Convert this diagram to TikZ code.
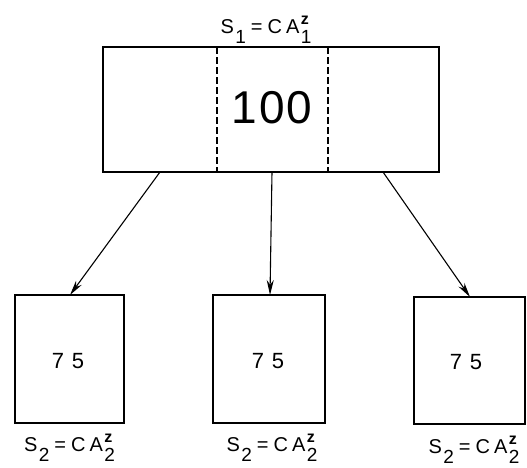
\documentclass[tikz,border=0pt]{standalone}
\usepackage{fontspec}
\setmainfont{Liberation Sans}
\usetikzlibrary{arrows.meta}
\newcommand{\subsup}[2]{\kern1.5pt\rlap{\raisebox{8.5pt}{\fontsize{16}{16}\selectfont\bfseries #1}}\raisebox{-10pt}{\fontsize{19}{19}\selectfont #2}}
\newcommand{\sub}[1]{\kern1.5pt\raisebox{-10pt}{\fontsize{19}{19}\selectfont #1}}
\newcommand{\lab}[1]{S\sub{#1}\kern5pt=\kern5pt C\kern4pt A\subsup{z}{#1}}
\begin{document}
\begin{tikzpicture}[x=1pt,y=-1pt]
\tikzset{
  box/.style={draw, line width=1.5pt, inner sep=0pt},
  divider/.style={line width=1.3pt, dash pattern=on 7pt off 3pt},
  arr/.style={line width=1.1pt, -{Stealth[length=15pt,width=7pt]}},
  lbl/.style={font=\fontsize{20}{20}\selectfont, inner sep=0pt, anchor=base},
  num/.style={font=\fontsize{22}{22}\selectfont, inner sep=0pt}
}
\useasboundingbox (0,0) rectangle (527,467);
% big box
\node[box, minimum width=336pt, minimum height=125pt] (big) at (271,109.5) {};
\coordinate (d1t) at (217,47); \coordinate (d1b) at (217,172);
\coordinate (d2t) at (328,47); \coordinate (d2b) at (328,172);
\draw[divider] (d1t) -- (d1b);
\draw[divider] (d2t) -- (d2b);
\node[inner sep=0pt, font=\fontsize{46}{46}\selectfont] (hundred) at (272,108) {1\kern2pt0\kern2pt0};
\node[lbl] (top) at (266,33) {\lab{1}};
% small boxes
\node[box, minimum width=109pt, minimum height=128pt] (b1) at (69.5,359) {};
\node[box, minimum width=112pt, minimum height=128pt] (b2) at (269,359) {};
\node[box, minimum width=111pt, minimum height=127pt] (b3) at (469.5,360.5) {};
\node[num] (n1) at (68,361) {7\kern8pt5};
\node[num] (n2) at (268,361) {7\kern8pt5};
\node[num] (n3) at (466,362) {7\kern8pt5};
\node[lbl] (l1) at (69.5,451) {\lab{2}};
\node[lbl] (l2) at (272,451) {\lab{2}};
\node[lbl] (l3) at (474,453) {\lab{2}};
% arrows
\coordinate (s1) at (160,172); \coordinate (e1) at (70,295);
\coordinate (s2) at (272,172); \coordinate (e2) at (270,295);
\coordinate (s3) at (383,172); \coordinate (e3) at (470,297);
\draw[arr] (s1) -- (e1);
\draw[arr] (s2) -- (e2);
\draw[arr] (s3) -- (e3);
\end{tikzpicture}
\end{document}
